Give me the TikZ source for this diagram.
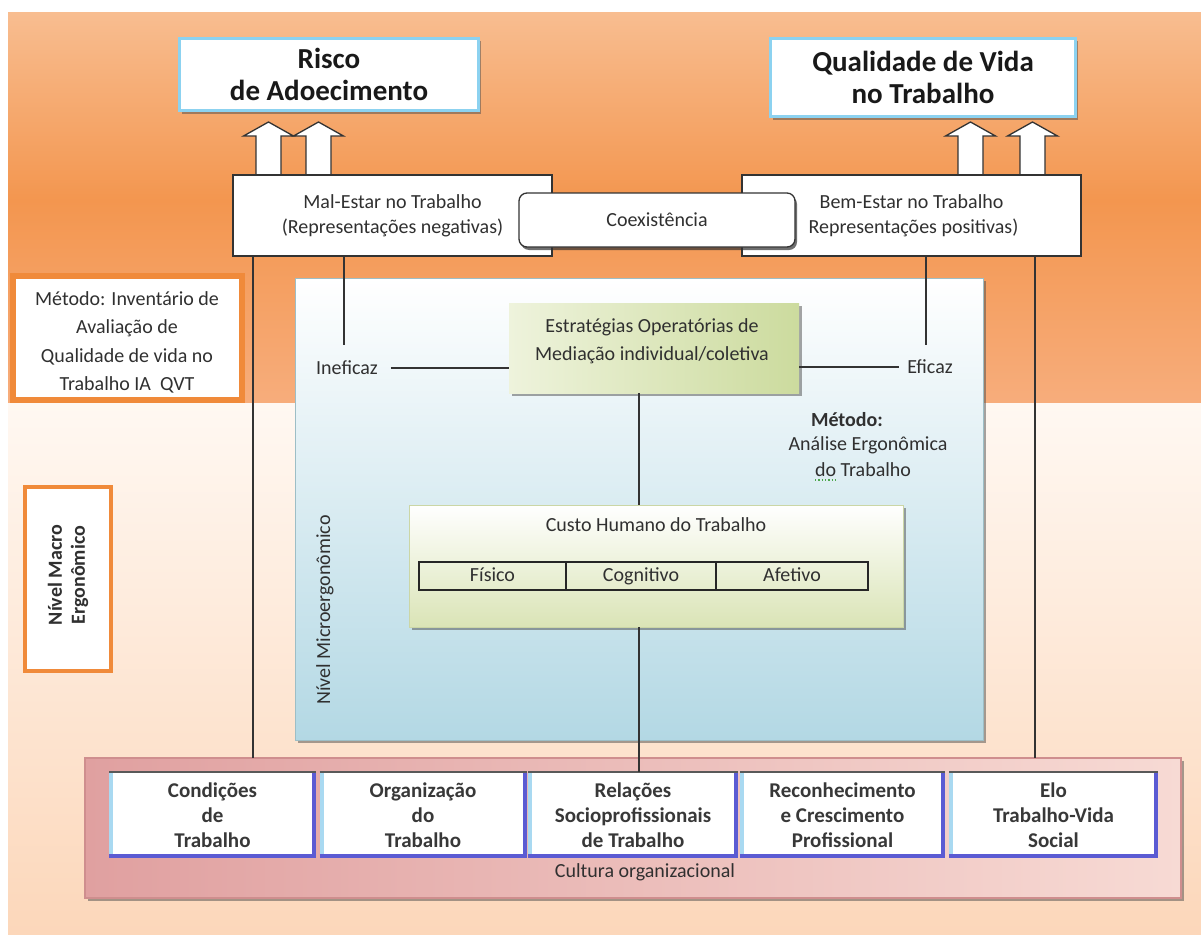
\documentclass[tikz,border=0pt]{standalone}
\usepackage{fontspec}
\setmainfont{Carlito}
\usetikzlibrary{shadows}
\definecolor{orTop}{HTML}{F8BD90}
\definecolor{orMid}{HTML}{F3964F}
\definecolor{orBot}{HTML}{F7AD7C}
\definecolor{peachTop}{HTML}{FFF8F2}
\definecolor{peachBot}{HTML}{FCD7BA}
\definecolor{lineC}{HTML}{333333}
\definecolor{txtC}{HTML}{303030}
\definecolor{glow}{HTML}{8CD2F0}
\definecolor{frameOr}{HTML}{F08A3A}
\definecolor{panelBot}{HTML}{B3D8E4}
\definecolor{panelEdge}{HTML}{9DBEC6}
\definecolor{greenL}{HTML}{EEF3DC}
\definecolor{greenD}{HTML}{CCDB9E}
\definecolor{custoBot}{HTML}{DAE4B6}
\definecolor{custoEdge}{HTML}{CBD6A6}
\definecolor{bandL}{HTML}{E0A0A0}
\definecolor{bandR}{HTML}{F7DAD4}
\definecolor{bandEdge}{HTML}{CF8E8E}
\definecolor{edgeBlue}{HTML}{A9D9F1}
\definecolor{edgePurple}{HTML}{5B5BD3}
\definecolor{squiggle}{HTML}{4DA64D}
\begin{document}
\begin{tikzpicture}[x=1pt,y=-1pt,
  every node/.style={inner sep=0pt, outer sep=0pt, text=txtC},
  reg/.style={font=\fontsize{20}{25}\selectfont},
  shd/.style={drop shadow={shadow xshift=2.5pt, shadow yshift=-3pt, fill=black!70, opacity=.5}},
  titlebox/.style={fill=white, draw=glow, line width=3pt, shd, align=center,
    font=\fontsize{29}{32}\selectfont\bfseries, text=black!90},
  plainbox/.style={fill=white, draw=lineC, line width=1.3pt, align=center, reg},
  orframe/.style={fill=white, draw=frameOr},
  cell/.style={draw=black!85, line width=1.5pt, reg, minimum height=28,
    text height=12pt, text depth=1pt},
  bottombox/.style={fill=white, minimum width=207, minimum height=86, align=center,
    font=\fontsize{21}{25}\selectfont\bfseries, text=black!78},
  conn/.style={draw=lineC, line width=1.5pt},
  uparrow/.pic={\draw[fill=white, draw=lineC, line width=1.3pt]
    (-12.5,0) -- (-12.5,-39) -- (-25,-39) -- (0,-53) -- (25,-39) -- (12.5,-39) -- (12.5,0);}
]
\useasboundingbox (0,0) rectangle (1201,934);

% page and the two background zones
\fill[white] (0,0) rectangle (1201,934);
\shade[top color=orTop, bottom color=orMid] (8,13) rectangle (1201,201);
\shade[top color=orMid, bottom color=orBot] (8,200) rectangle (1201,404);
\shade[top color=peachTop, bottom color=peachBot] (8,403) rectangle (1201,934);

% outcome boxes and the block arrows feeding them
\node[titlebox, minimum width=299, minimum height=72] (risk) at (329,74.5) {Risco\\de Adoecimento};
\node[titlebox, minimum width=305, minimum height=78] (qvt) at (923,77.5) {Qualidade de Vida\\no Trabalho};
\pic at (268.5,175) {uparrow};
\pic at (318.5,175) {uparrow};
\pic at (970.5,175) {uparrow};
\pic at (1032.5,175) {uparrow};

% work representations
\node[plainbox, minimum width=319, minimum height=81] (mal) at (392.5,215.5)
  {Mal-Estar no Trabalho\\(Representações negativas)};
\node[plainbox, minimum width=339, minimum height=81] (bem) at (911.5,215.5)
  {Bem-Estar no Trabalho\\\hspace*{4pt}Representações positivas)};
\node[plainbox, rounded corners=8pt, minimum width=276, minimum height=54,
  drop shadow={shadow xshift=2pt, shadow yshift=-3pt, fill=black!80, opacity=.7}] (coex) at (657,220) {Coexistência};

% macro-ergonomic level, method box
\node[orframe, line width=6pt, minimum width=229, minimum height=124, shd] (met) at (127.5,338) {};
\node[align=center, font=\fontsize{20}{28.5}\selectfont] (metT) at (127,342.5)
  {Método: Inventário de\\Avaliação de\\Qualidade de vida no\\Trabalho IA~~QVT};
\node[orframe, line width=4pt, minimum width=86, minimum height=184] (macro) at (68,579) {};
\node[rotate=90, align=center, font=\fontsize{20}{23}\selectfont\bfseries] (macroT) at (68,575)
  {Nível Macro\\Ergonômico};

% micro-ergonomic panel
\node[top color=white, bottom color=panelBot, draw=panelEdge, line width=1pt,
  minimum width=688, minimum height=462, shd] (micro) at (639,509) {};
\node[rotate=90, reg] (microT) at (325,610) {Nível Microergonômico};

\node[left color=greenL, right color=greenD, minimum width=290, minimum height=90, shd] (estr) at (654,348) {};
\node[align=center, reg, font=\fontsize{20}{28}\selectfont] (estrT) at (652,341)
  {Estratégias Operatórias de\\Mediação individual/coletiva};

\node[reg] (inef) at (347,368) {Ineficaz};
\node[reg] (efic) at (930,367) {Eficaz};

\node[reg, font=\fontsize{20}{25}\selectfont\bfseries] (mt1) at (847,420) {Método:};
\node[reg] (mt2) at (868,445) {Análise Ergonômica};
\node[reg] (mt3) at (863,470) {do Trabalho};
\draw[squiggle, line width=1.3pt, dotted] ([yshift=-3pt]mt3.south west) -- ++(20,0);

\node[top color=white, bottom color=custoBot, draw=custoEdge, line width=.8pt,
  minimum width=494, minimum height=122, shd] (custo) at (656,566) {};
\node[reg] (custoT) at (656,525) {Custo Humano do Trabalho};
\node[cell, minimum width=147] (fis) at (492.5,576) {Físico};
\node[cell, minimum width=150] (cog) at (641,576) {Cognitivo};
\node[cell, minimum width=152] (afe) at (792,576) {Afetivo};

% organisational culture band with the five factors
\node[left color=bandL, right color=bandR, draw=bandEdge, line width=1.5pt,
  minimum width=1096, minimum height=140, shd] (band) at (633,828) {};
\node[bottombox] (b1) at (212.5,815) {Condições\\de\\Trabalho};
\node[bottombox] (b2) at (423,815) {Organização\\do\\Trabalho};
\node[bottombox, minimum width=210] (b3) at (633,815) {Relações\\Socioprofissionais\\de Trabalho};
\node[bottombox, minimum width=205] (b4) at (842.5,815) {Reconhecimento\\e Crescimento\\Profissional};
\node[bottombox, minimum width=209] (b5) at (1053.5,815) {Elo\\Trabalho-Vida\\Social};
\foreach \bb in {b1,b2,b3,b4,b5} {
  \draw[edgeBlue, line width=4pt] ([xshift=2pt]\bb.north west) -- ([xshift=2pt]\bb.south west);
  \draw[edgePurple, line width=4pt] ([yshift=2pt]\bb.south west) -- ([xshift=-2pt,yshift=2pt]\bb.south east)
     -- ([xshift=-2pt]\bb.north east);
  \draw[black!65, line width=1.8pt] (\bb.north west) -- (\bb.north east);
}
\node[reg] (cult) at (645,872) {Cultura organizacional};

% connectors
\coordinate (xl) at (253,0);
\coordinate (xr) at (1035,0);
\coordinate (xc) at (639,0);
\coordinate (inefTop) at (344,345);
\coordinate (eficTop) at (926,345);
\draw[conn] (mal.south -| xl) -- (band.north -| xl);
\draw[conn] (bem.south -| xr) -- (band.north -| xr);
\draw[conn] (mal.south -| inefTop) -- (inefTop);
\draw[conn] (bem.south -| eficTop) -- (eficTop);
\draw[conn] ([xshift=13pt]inef.east) -- (estr.west |- inef.east);
\draw[conn] (estr.east |- efic.west) -- ([xshift=-8pt]efic.west);
\draw[conn] (estr.south -| xc) -- (custo.north -| xc);
\draw[conn] (custo.south -| xc) -- (b3.north -| xc);
\end{tikzpicture}
\end{document}
